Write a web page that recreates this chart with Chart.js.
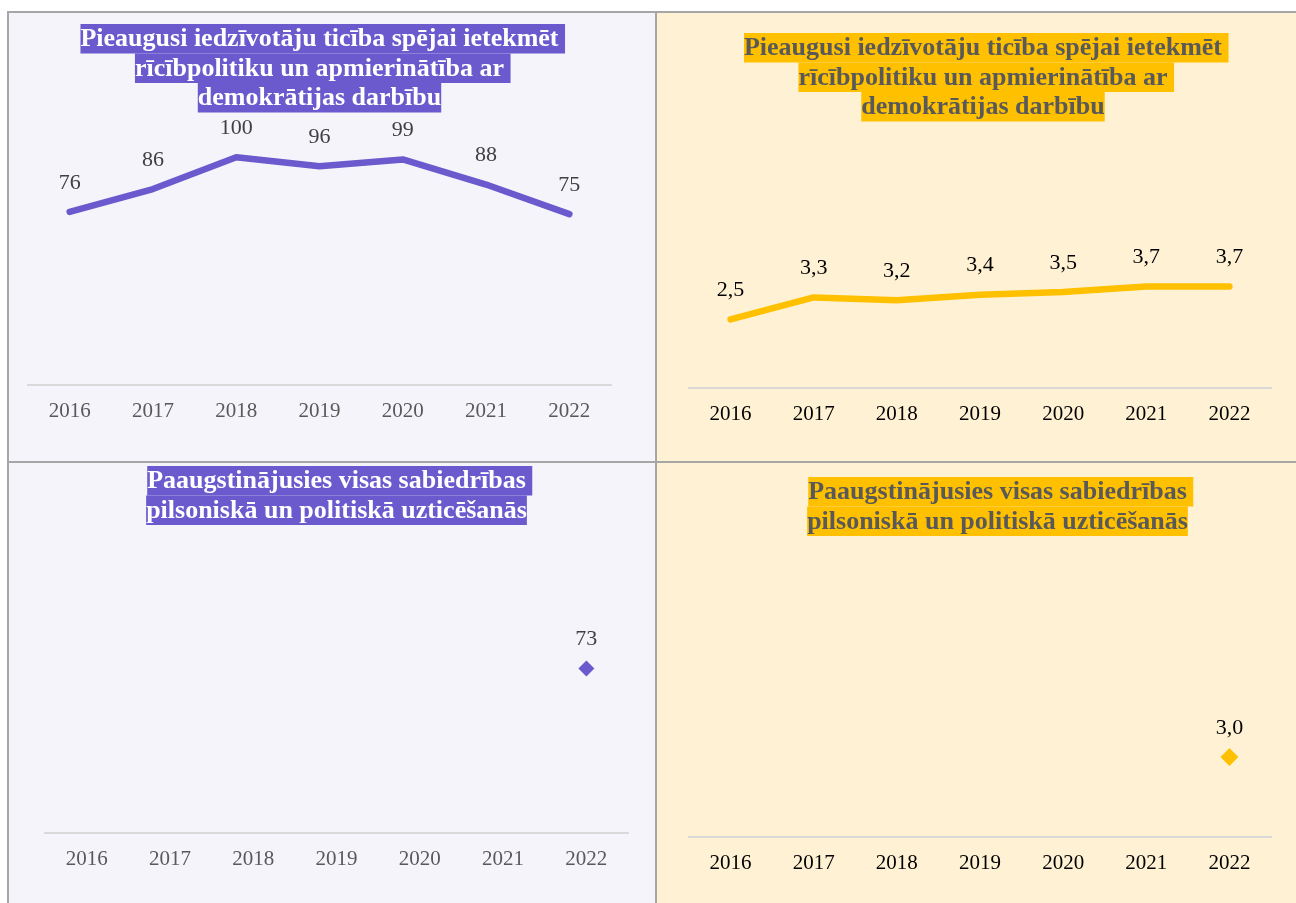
<!DOCTYPE html>
<html>
<head>
<meta charset="utf-8">
<script src="https://cdn.jsdelivr.net/npm/chart.js@4"></script>
<style>
  body { margin: 0; background: #fff; width: 1296px; height: 903px; overflow: hidden; position: relative; }
  .ln { position: absolute; background: #A6A6A6; }
  .panel { position: absolute; }
  .purple { background: #F5F4FB; }
  .gold { background: #FFF2D4; }
</style>
</head>
<body>
<div class="panel purple" style="left:9px;top:13px;width:646px;height:448px"><canvas id="c1" width="646" height="448"></canvas></div>
<div class="panel gold" style="left:657px;top:13px;width:639px;height:448px"><canvas id="c2" width="639" height="448"></canvas></div>
<div class="panel purple" style="left:9px;top:463px;width:646px;height:440px"><canvas id="c3" width="646" height="440"></canvas></div>
<div class="panel gold" style="left:657px;top:463px;width:639px;height:440px"><canvas id="c4" width="639" height="440"></canvas></div>
<div class="ln" style="left:7px;top:11px;width:1289px;height:2px"></div>
<div class="ln" style="left:7px;top:11px;width:2px;height:892px"></div>
<div class="ln" style="left:655px;top:11px;width:2px;height:892px"></div>
<div class="ln" style="left:7px;top:461px;width:1289px;height:2px"></div>
<script>
// dati
const years = ["2016", "2017", "2018", "2019", "2020", "2021", "2022"];
const ticibaIndekss = [76, 86, 100, 96, 99, 88, 75];
const ticibaVertejums = [2.5, 3.3, 3.2, 3.4, 3.5, 3.7, 3.7];
const uzticesanasIndekss = [null, null, null, null, null, null, 73];
const uzticesanasVertejums = [null, null, null, null, null, null, 3.0];

const title1 = ["Pieaugusi iedzīvotāju ticība spējai ietekmēt ", "rīcībpolitiku un apmierinātība ar ", "demokrātijas darbību"];
const title2 = ["Paaugstinājusies visas sabiedrības ", "pilsoniskā un politiskā uzticēšanās"];

const PURPLE = '#6A5ACD';
const GOLD = '#FFC000';
const FONT = '"Liberation Serif", "Times New Roman", serif';

// virsraksts ar iekrāsotu fonu katrai rindai
const titlePlugin = {
  id: 'hlTitle',
  afterDraw(chart, args, o) {
    const ctx = chart.ctx;
    ctx.save();
    ctx.font = 'bold 26px ' + FONT;
    ctx.textBaseline = 'middle';
    ctx.textAlign = 'left';
    const spaceW = ctx.measureText(' ').width;
    o.lines.forEach((line, i) => {
      const txt = line.trimEnd();
      const w = ctx.measureText(txt).width;
      const x0 = o.cx - w / 2;
      const y0 = o.top + i * o.lh;
      const extra = line.length > txt.length ? spaceW : 0;
      ctx.fillStyle = o.bg;
      ctx.fillRect(x0, y0, w + extra, o.lh);
      ctx.fillStyle = o.color;
      ctx.fillText(txt, x0, y0 + o.lh / 2 + 1);
    });
    ctx.restore();
  }
};

// vērtību etiķetes virs punktiem
const labelPlugin = {
  id: 'valLabels',
  afterDatasetsDraw(chart, args, o) {
    const ctx = chart.ctx;
    ctx.save();
    ctx.font = '22px ' + FONT;
    ctx.fillStyle = o.color;
    ctx.textAlign = 'center';
    ctx.textBaseline = 'middle';
    chart.data.datasets.forEach((ds, di) => {
      chart.getDatasetMeta(di).data.forEach((el, i) => {
        const v = ds.data[i];
        if (v === null || v === undefined) return;
        ctx.fillText(o.fmt(v), el.x, el.y - 29);
      });
    });
    ctx.restore();
  }
};

function makeChart(id, cfg) {
  new Chart(document.getElementById(id), {
    type: 'line',
    data: {
      labels: years,
      datasets: [{
        data: cfg.data,
        borderColor: cfg.color,
        backgroundColor: cfg.color,
        borderWidth: 6.5,
        borderCapStyle: 'round',
        borderJoinStyle: 'round',
        tension: 0,
        pointStyle: 'rectRot',
        pointRadius: cfg.pointRadius,
        pointHoverRadius: cfg.pointRadius,
        pointBorderWidth: 0,
        spanGaps: false
      }]
    },
    options: {
      responsive: false,
      animation: false,
      devicePixelRatio: 1,
      layout: { padding: cfg.pad },
      scales: {
        x: {
          offset: true,
          grid: { display: false },
          border: { display: true, color: '#D9D9D9', width: 2 },
          ticks: { color: cfg.tickColor, font: { family: FONT, size: 21 }, padding: 6, maxRotation: 0 },
          afterFit: s => { s.height = 60; }
        },
        y: { display: false, min: 0, max: cfg.max }
      },
      plugins: {
        legend: { display: false },
        tooltip: { enabled: false },
        hlTitle: cfg.title,
        valLabels: { color: cfg.labelColor, fmt: cfg.fmt }
      }
    },
    plugins: [titlePlugin, labelPlugin]
  });
}

const fmtInt = v => String(Math.round(v));
const fmtDec = v => v.toFixed(1).replace('.', ',');

makeChart('c1', {
  data: ticibaIndekss, color: PURPLE, pointRadius: 0, max: 115,
  pad: { left: 19, right: 44, top: 110, bottom: 16 },
  tickColor: '#595959', labelColor: '#404040', fmt: fmtInt,
  title: { lines: title1, cx: 310.5, top: 11, lh: 29.5, bg: PURPLE, color: '#FFFFFF' }
});
makeChart('c2', {
  data: ticibaVertejums, color: GOLD, pointRadius: 0, max: 9,
  pad: { left: 32, right: 25, top: 128, bottom: 13 },
  tickColor: '#000000', labelColor: '#000000', fmt: fmtDec,
  title: { lines: title1, cx: 326, top: 20, lh: 29.5, bg: GOLD, color: '#595959' }
});
makeChart('c3', {
  data: uzticesanasIndekss, color: PURPLE, pointRadius: 8, max: 115,
  pad: { left: 36, right: 27, top: 111, bottom: 10 },
  tickColor: '#595959', labelColor: '#404040', fmt: fmtInt,
  title: { lines: title2, cx: 327.5, top: 3, lh: 29.5, bg: PURPLE, color: '#FFFFFF' }
});
makeChart('c4', {
  data: uzticesanasVertejums, color: GOLD, pointRadius: 9, max: 9,
  pad: { left: 32, right: 25, top: 134, bottom: 6 },
  tickColor: '#000000', labelColor: '#000000', fmt: fmtDec,
  title: { lines: title2, cx: 340.5, top: 14, lh: 29.5, bg: GOLD, color: '#595959' }
});
</script>
</body>
</html>
